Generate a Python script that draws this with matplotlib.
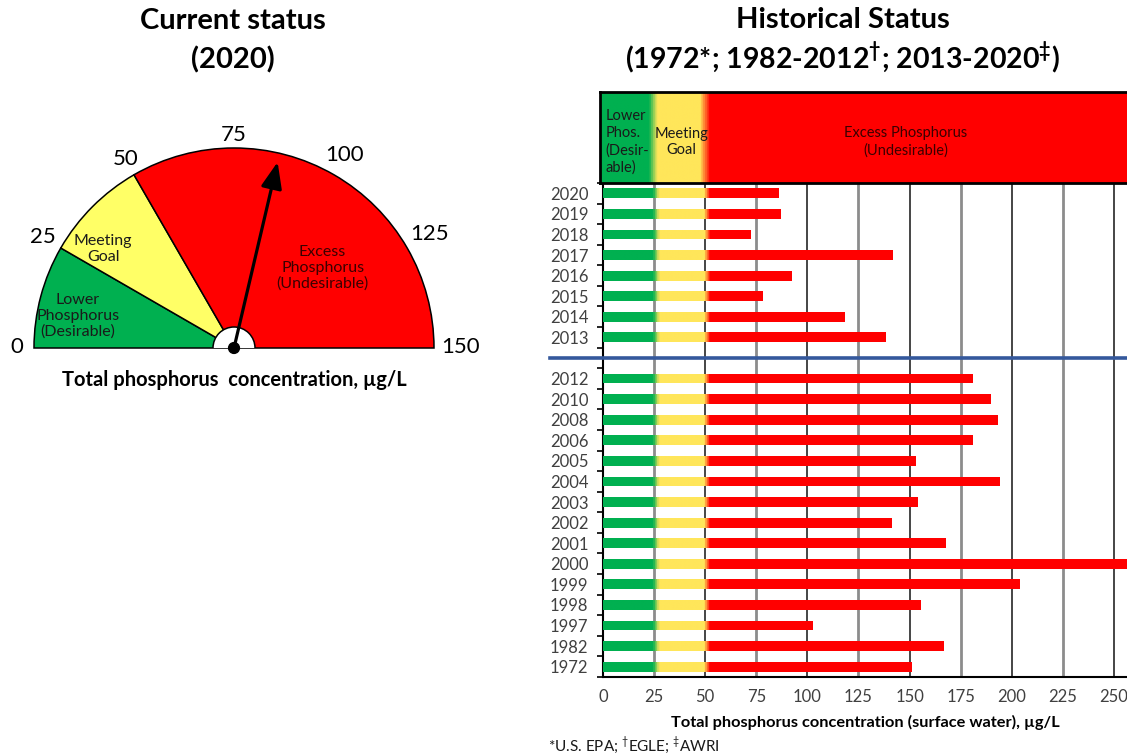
import numpy as np
import matplotlib
matplotlib.use("Agg")
import matplotlib.pyplot as plt
from matplotlib.patches import Wedge, Arc, Circle
from matplotlib.colors import LinearSegmentedColormap

plt.rcParams['font.family'] = ['Lato', 'DejaVu Sans']
plt.rcParams['mathtext.fontset'] = 'custom'
plt.rcParams['mathtext.rm'] = 'Lato'
plt.rcParams['mathtext.bf'] = 'Lato:bold'

# --- data ---
years_recent = ['2020', '2019', '2018', '2017', '2016', '2015', '2014', '2013']
tp_recent = [86, 87, 72, 141.5, 92, 78, 118, 138]
years_hist = ['2012', '2010', '2008', '2006', '2005', '2004', '2003', '2002',
              '2001', '2000', '1999', '1998', '1997', '1982', '1972']
tp_hist = [181, 189.5, 193, 181, 153, 194, 154, 141, 167.5, 260, 204, 155.5,
           102.5, 166.5, 151]
x_ticks = [0, 25, 50, 75, 100, 125, 150, 175, 200, 225, 250]
gauge_bounds = [0, 25, 50, 150]
gauge_ticks = [0, 25, 50, 75, 100, 125, 150]
current_value = tp_recent[0]

GREEN = '#00B050'
YELLOW = '#FFE65A'
RED = '#FF0000'
TXT = '#404040'

fig = plt.figure(figsize=(11.27, 7.56), dpi=100)
W, H = 1127, 756


def fx(px):
    return px / W


def fy(py):
    return 1 - py / H


# ---------------- gauge ----------------
gx = fig.add_axes([0, fy(400), fx(480), 300 / H])
gx.set_xlim(-234 / 200, (480 - 234) / 200)
gx.set_ylim((348 - 400) / 200, (348 - 100) / 200)
gx.axis('off')


def ang(v):
    return 180 - v / 150 * 180


gcols = [GREEN, '#FFFF66', RED]
for (a, b), c in zip(zip(gauge_bounds[:-1], gauge_bounds[1:]), gcols):
    gx.add_patch(Wedge((0, 0), 1.0, ang(b), ang(a), facecolor=c,
                       edgecolor='black', lw=1.1))
gx.add_patch(Wedge((0, 0), 0.105, 0, 180, facecolor='white', edgecolor='none', zorder=3))
gx.add_patch(Arc((0, 0), 0.21, 0.21, theta1=0, theta2=180, color='black', lw=1.1, zorder=3))

for t in gauge_ticks:
    a = np.deg2rad(ang(t))
    r = 1.06 + 0.05 * abs(np.cos(a)) + 0.025 * (len(str(t)) - 2)
    gx.text(r * np.cos(a), r * np.sin(a) + 0.005, str(t), fontsize=16,
            ha='center', va='center', color='black')

gx.text(-0.78, 0.16, 'Lower\nPhosphorus\n(Desirable)', fontsize=11.5,
        ha='center', va='center', linespacing=1.15, color='#1a1a1a')
gx.text(-0.655, 0.495, 'Meeting\nGoal', fontsize=11.5, ha='center',
        va='center', linespacing=1.15, color='#1a1a1a')
gx.text(0.443, 0.40, 'Excess\nPhosphorus\n(Undesirable)', fontsize=11.5,
        ha='center', va='center', linespacing=1.15, color='#3a0000')

a = np.deg2rad(ang(current_value))
gx.annotate('', xy=(0.955 * np.cos(a), 0.955 * np.sin(a)), xytext=(0, 0),
            arrowprops=dict(arrowstyle='-|>,head_length=0.8,head_width=0.32',
                            lw=2.3, color='black', shrinkA=0, shrinkB=0,
                            mutation_scale=20), zorder=4)
gx.add_patch(Circle((0, 0), 0.027, color='black', zorder=5))
gx.text(0, -0.16, 'Total phosphorus  concentration, \u00b5g/L', fontsize=14.5,
        fontweight='bold', ha='center', va='center')

fig.text(fx(233), fy(21), 'Current status', fontsize=21, fontweight='bold',
         ha='center', va='center')
fig.text(fx(233), fy(60), '(2020)', fontsize=21, fontweight='bold',
         ha='center', va='center')

# ---------------- historical bars ----------------
XMAX = 256.4
ax = fig.add_axes([fx(603), fy(677), 1 - fx(603), (677 - 183) / H])

ypos = list(range(len(years_recent))) + [len(years_recent) + 1 + i for i in range(len(years_hist))]
labels = years_recent + years_hist
values = tp_recent + tp_hist

cmap = LinearSegmentedColormap.from_list(
    'tp', [(0, GREEN), (24 / 260, GREEN), (27 / 260, YELLOW),
           (49 / 260, YELLOW), (52 / 260, RED), (1, RED)])
grad = np.linspace(0, 260, 1200).reshape(1, -1)

bars = ax.barh(ypos, values, height=0.48, facecolor='none', edgecolor='none', zorder=3)
for bar in bars:
    y0 = bar.get_y()
    im = ax.imshow(grad, extent=[0, 260, y0, y0 + bar.get_height()], cmap=cmap,
                   vmin=0, vmax=260, aspect='auto', interpolation='bilinear', zorder=3)
    im.set_clip_path(bar)

for t in x_ticks[1:]:
    if t % 50 == 0:
        ax.axvline(t, color='#262626', lw=1.2, zorder=1)
    else:
        ax.axvline(t, color='#8c8c8c', lw=2.0, zorder=1)

ax.axhline(len(years_recent), xmin=-0.101, xmax=1, color='#34589C', lw=2.6,
           clip_on=False, zorder=4)

ax.set_xlim(0, XMAX)
ax.set_ylim(ypos[-1] + 0.5, -0.5)
ax.set_yticks(ypos)
ax.set_yticklabels(labels)
ax.set_yticks(np.arange(-0.5, ypos[-1] + 1, 1), minor=True)
ax.tick_params(axis='y', which='major', length=0, pad=10.5, labelsize=12, labelcolor=TXT)
ax.tick_params(axis='y', which='minor', length=4, width=1.2, color='black')
ax.set_xticks(x_ticks)
ax.tick_params(axis='x', length=0, pad=9, labelsize=12, labelcolor=TXT)
for s in ['top', 'right']:
    ax.spines[s].set_visible(False)
ax.spines['left'].set_linewidth(1.5)
ax.spines['bottom'].set_linewidth(1.5)
ax.set_xlabel('Total phosphorus concentration (surface water), \u00b5g/L',
              fontsize=11.8, fontweight='bold', labelpad=7)

# header band
hx = fig.add_axes([fx(600), fy(183), 1 - fx(600), (183 - 92) / H])
hx.set_xlim(-3 / 2.044, XMAX)
hx.set_ylim(0, 1)
hgrad = np.linspace(0, 260, 1200).reshape(1, -1)
hmap = LinearSegmentedColormap.from_list(
    'hd', [(0, GREEN), (22 / 260, GREEN), (26 / 260, YELLOW),
           (47 / 260, YELLOW), (52 / 260, RED), (1, RED)])
hx.imshow(hgrad, extent=[0, 260, 0, 1], cmap=hmap, vmin=0, vmax=260,
          aspect='auto', interpolation='bilinear')
hx.axvspan(-5, 0, color=GREEN)
hx.set_xticks([])
hx.set_yticks([])
hx.spines['right'].set_visible(False)
for s in ['top', 'left', 'bottom']:
    hx.spines[s].set_linewidth(2)
hx.text(1.2, 0.45, 'Lower\nPhos.\n(Desir-\nable)', fontsize=10.5, ha='left',
        va='center', linespacing=1.25, color='#1a1a1a')
hx.text(38.5, 0.45, 'Meeting\nGoal', fontsize=10.5, ha='center', va='center',
        linespacing=1.25, color='#1a1a1a')
hx.text(148, 0.45, 'Excess Phosphorus\n(Undesirable)', fontsize=10.5, ha='center',
        va='center', linespacing=1.25, color='#3a0000')

fig.text(fx(843), fy(20), 'Historical Status', fontsize=21, fontweight='bold',
         ha='center', va='center')
fig.text(fx(843), fy(58),
         '(1972*; 1982-2012$^{\\mathbf{\u2020}}$; 2013-2020$^{\\mathbf{\u2021}}$)',
         fontsize=20.5, fontweight='bold', ha='center', va='center')
fig.text(fx(548), fy(745), '*U.S. EPA; $^{\u2020}$EGLE; $^{\u2021}$AWRI',
         fontsize=11, ha='left', va='center', color='#1a1a1a')

fig.savefig('out.png', dpi=100)
